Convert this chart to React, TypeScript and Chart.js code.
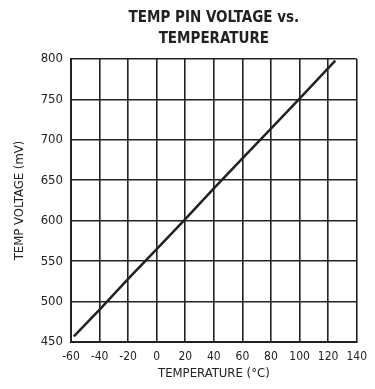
import React, { useEffect, useRef } from "react";
import { Chart, registerables } from "chart.js";

Chart.register(...registerables);

const temperatures = [-58, -40, -20, 0, 20, 40, 60, 80, 100, 125];
const voltages = [457, 490, 528, 565, 602, 640, 677, 714, 751, 798];
const titleLines = ["TEMP PIN VOLTAGE vs.", "TEMPERATURE"];
const xTitle = "TEMPERATURE (\u00B0C)";
const yTitle = "TEMP VOLTAGE (mV)";

const INK = "#222222";
const FONT = "'DejaVu Sans Condensed', 'Liberation Sans', Arial, sans-serif";

const titlePlugin = {
  id: "centeredTitle",
  afterDraw(chart: any) {
    const { ctx, chartArea } = chart;
    const cx = (chartArea.left + chartArea.right) / 2;
    ctx.save();
    ctx.fillStyle = INK;
    ctx.font = `bold 15px ${FONT}`;
    ctx.textAlign = "center";
    ctx.textBaseline = "middle";
    titleLines.forEach((t, i) => ctx.fillText(t, cx, 18 + i * 21));
    ctx.restore();
  },
};

export default function App() {
  const ref = useRef<HTMLCanvasElement>(null);
  useEffect(() => {
    document.body.style.margin = "0";
    const chart = new Chart(ref.current!, {
      type: "scatter",
      data: {
        datasets: [
          {
            data: temperatures.map((t, i) => ({ x: t, y: voltages[i] })),
            showLine: true,
            borderColor: INK,
            borderWidth: 2.5,
            pointRadius: 0,
          },
        ],
      },
      options: {
        animation: false,
        responsive: false,
        layout: { padding: { top: 59, right: 17, left: 8, bottom: 4 } },
        plugins: { legend: { display: false }, tooltip: { enabled: false }, title: { display: false } },
        scales: {
          x: {
            type: "linear",
            min: -60,
            max: 140,
            ticks: { stepSize: 20, color: INK, font: { family: FONT, size: 12 }, padding: 8, maxRotation: 0, minRotation: 0, autoSkip: false },
            grid: { color: INK, lineWidth: 1.6, drawTicks: false },
            border: { color: INK, width: 2 },
            title: { display: true, text: xTitle, color: INK, font: { family: FONT, size: 13 }, padding: { top: 2 } },
            afterFit(scale: any) { scale.height = 43; },
          },
          y: {
            min: 450,
            max: 800,
            ticks: { stepSize: 50, color: INK, font: { family: FONT, size: 13 }, padding: 8 },
            grid: { color: INK, lineWidth: 1.6, drawTicks: false },
            border: { color: INK, width: 2 },
            title: { display: true, text: yTitle, color: INK, font: { family: FONT, size: 13 }, padding: { bottom: 5 } },
            afterFit(scale: any) { scale.width = 63; },
          },
        },
      },
      plugins: [titlePlugin],
    });
    return () => chart.destroy();
  }, []);
  return (
    <div style={{ position: "absolute", left: 0, top: 0, width: 375, height: 389, background: "#fff" }}>
      <canvas ref={ref} width={375} height={389} />
    </div>
  );
}
